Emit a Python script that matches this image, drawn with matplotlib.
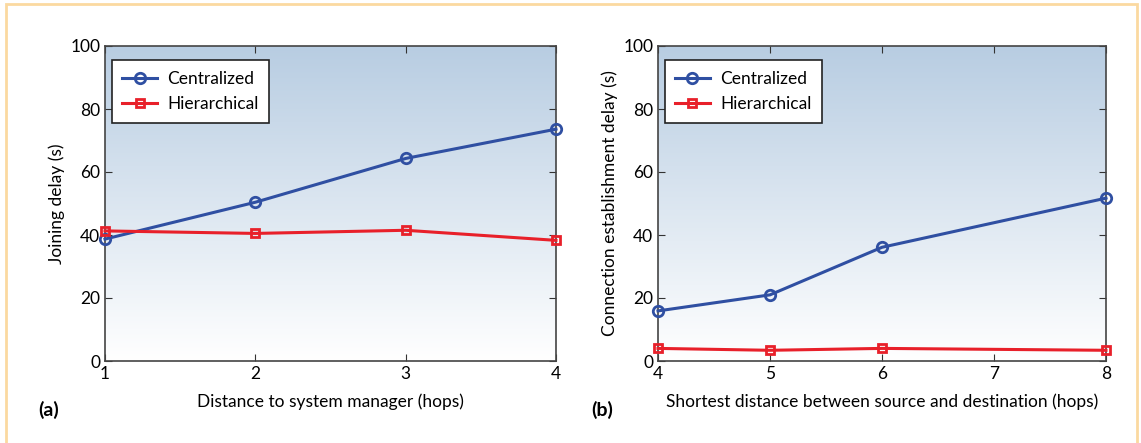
import numpy as np
import matplotlib.pyplot as plt
from matplotlib.patches import Rectangle

plt.rcParams["font.family"] = ["Lato", "DejaVu Sans"]

# panel (a)
hops_a = [1, 2, 3, 4]
central_a = [38.7, 50.4, 64.3, 73.6]
hier_a = [41.3, 40.5, 41.5, 38.3]

# panel (b)
hops_b = [4, 5, 6, 8]
central_b = [15.9, 21.0, 36.1, 51.7]
hier_b = [4.0, 3.4, 4.0, 3.4]

BLUE = "#2f4fa2"
RED = "#e8202a"
TOP = np.array([184, 205, 226]) / 255.0


def gradient_bg(ax):
    n = 256
    t = np.linspace(0, 1, n)[:, None]
    rgb = (1 - t) * np.ones(3) + t * TOP
    img = rgb[:, None, :].repeat(2, axis=1)
    ax.imshow(img, extent=[0, 1, 0, 1], transform=ax.transAxes,
              origin="lower", aspect="auto", zorder=0)


def draw_panel(ax, x, c, h, xticks, xlabel, ylabel, tag):
    gradient_bg(ax)
    ax.plot(x, c, color=BLUE, lw=2.2, marker="o", ms=7.5, mfc="none",
            mew=2, label="Centralized", zorder=3, clip_on=False)
    ax.plot(x, h, color=RED, lw=2.2, marker="s", ms=6, mfc="none",
            mew=2, label="Hierarchical", zorder=3, clip_on=False)
    ax.set_xlim(xticks[0], xticks[-1])
    ax.set_ylim(0, 100)
    ax.set_xticks(xticks)
    ax.set_yticks([0, 20, 40, 60, 80, 100])
    ax.tick_params(direction="in", top=True, right=True, length=5,
                   labelsize=12.5, color="#333333")
    for s in ax.spines.values():
        s.set_color("#444444")
        s.set_linewidth(1.2)
    ax.set_xlabel(xlabel, fontsize=12.5, labelpad=8)
    ax.set_ylabel(ylabel, fontsize=12.5, labelpad=4)
    leg = ax.legend(loc="upper left", bbox_to_anchor=(0.015, 0.955),
                    fontsize=12.5, fancybox=False, framealpha=1,
                    edgecolor="#222222", borderaxespad=0,
                    handlelength=2.0, borderpad=0.6, labelspacing=0.55,
                    handletextpad=0.6)
    leg.get_frame().set_linewidth(1.2)
    ax.text(-0.148, -0.155, tag, transform=ax.transAxes, fontsize=14,
            fontweight="bold", va="center", ha="left")


fig = plt.figure(figsize=(11.41, 4.43), dpi=100)
fig.patches.append(Rectangle((6 / 1141, -0.1), 1131 / 1141, 1.1 - 4 / 443,
                             transform=fig.transFigure, fill=False,
                             edgecolor="#fbd9a0", lw=2))

ax1 = fig.add_axes([105 / 1141, 1 - 361 / 443, 451 / 1141, 315 / 443])
ax2 = fig.add_axes([658 / 1141, 1 - 361 / 443, 448 / 1141, 315 / 443])

draw_panel(ax1, hops_a, central_a, hier_a, [1, 2, 3, 4],
           "Distance to system manager (hops)", "Joining delay (s)", "(a)")
draw_panel(ax2, hops_b, central_b, hier_b, [4, 5, 6, 7, 8],
           "Shortest distance between source and destination (hops)",
           "Connection establishment delay (s)", "(b)")

fig.savefig("out.png", dpi=100)
